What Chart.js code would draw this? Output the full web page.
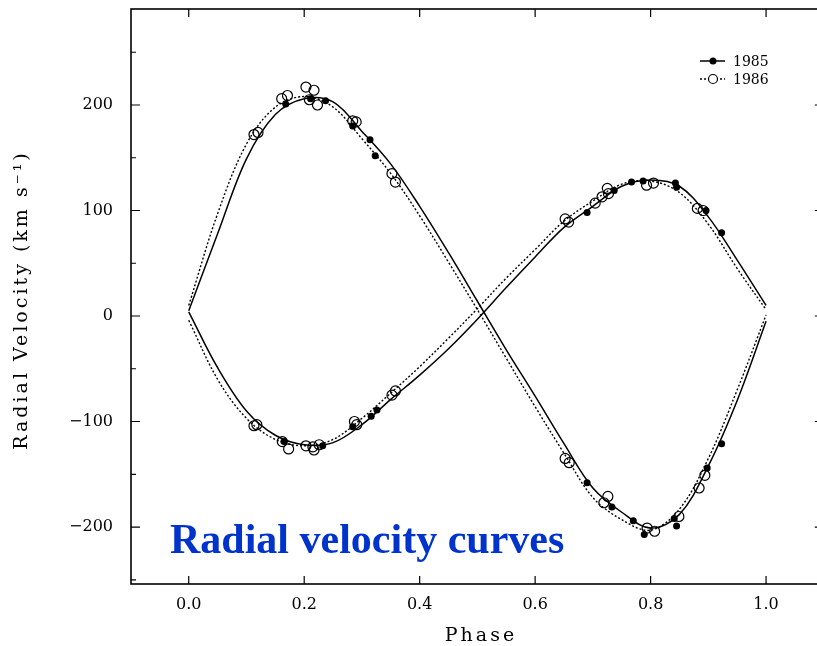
<!DOCTYPE html>
<html>
<head>
<meta charset="utf-8">
<script src="https://cdn.jsdelivr.net/npm/chart.js"></script>
<style>
  html, body { margin: 0; padding: 0; background: #fff; overflow: hidden; }
  #wrap { width: 830px; height: 646px; }
</style>
</head>
<body>
<div id="wrap"><canvas id="rvChart" width="830" height="646"></canvas></div>
<script>
const phaseGrid = [0.00, 0.05, 0.10, 0.15, 0.20, 0.25, 0.30, 0.35, 0.40, 0.45, 0.50,
                   0.55, 0.60, 0.65, 0.70, 0.75, 0.80, 0.85, 0.90, 0.95, 1.00];

// fitted curves, km/s (A = star peaking at phase 0.2, B = the other one)
const fit1985A = [5, 78, 149, 191, 206, 203, 175, 144, 104, 60, 14,
                  -32, -76, -121, -163, -186, -201, -188, -142, -80, -5];
const fit1985B = [4, -49, -90, -113, -122, -120, -103, -79, -56, -31, -3,
                  27, 56, 84, 104, 123, 129, 123, 94, 53, 10];
const fit1986A = [10, 97, 163, 198, 208, 198, 168, 135, 95, 51, 6,
                  -40, -86, -130, -172, -193, -203, -183, -135, -70, 1];
const fit1986B = [-4, -60, -97, -117, -123, -117, -97, -73, -48, -21, 7,
                  36, 63, 90, 109, 125, 128, 117, 87, 45, 6];

// observations 1985 (filled dots)
const obs1985Phase = [0.168, 0.211, 0.237, 0.284, 0.314, 0.323,
                      0.690, 0.733, 0.770, 0.789, 0.841, 0.845, 0.898, 0.923,
                      0.165, 0.232, 0.284, 0.316, 0.326,
                      0.690, 0.737, 0.767, 0.787, 0.843, 0.845, 0.896, 0.923];
const obs1985Vel = [201, 206, 204, 180, 167, 152,
                    -158, -181, -194, -207, -192, -199, -144, -121,
                    -119, -123, -105, -95, -89,
                    98, 119, 127, 128, 126, 122, 100, 79];

// observations 1986 (open circles)
const obs1986Phase = [0.113, 0.120, 0.161, 0.171, 0.203, 0.217, 0.209, 0.223, 0.284, 0.290, 0.352, 0.358,
                      0.652, 0.659, 0.719, 0.726, 0.794, 0.807, 0.849, 0.884, 0.894,
                      0.113, 0.118, 0.162, 0.173, 0.203, 0.215, 0.217, 0.226, 0.287, 0.291, 0.352, 0.358,
                      0.652, 0.658, 0.704, 0.716, 0.725, 0.727, 0.793, 0.805, 0.881, 0.891];
const obs1986Vel = [172, 174, 206, 209, 217, 214, 205, 200, 185, 184, 135, 127,
                    -135, -139, -177, -171, -201, -204, -190, -163, -151,
                    -104, -103, -119, -126, -123, -124, -127, -122, -100, -103, -75, -71,
                    92, 89, 107, 113, 121, 116, 124, 126, 102, 100];

const xTicks = [0, 0.2, 0.4, 0.6, 0.8, 1.0];
const yTicks = [-200, -100, 0, 100, 200];
const yMinorTicks = [-250, -150, -50, 50, 150, 250];
const legendYears = ['1985', '1986'];

const pts = (xs, ys) => xs.map((x, i) => ({ x: x, y: ys[i] }));

const curve = (vals, dashed) => ({
    data: pts(phaseGrid, vals),
    showLine: true,
    borderColor: '#000',
    borderWidth: dashed ? 1.4 : 1.5,
    borderDash: dashed ? [2, 2] : [],
    pointRadius: 0,
    tension: 0.35,
    order: 2
});

const framePlugin = {
    id: 'frame',
    afterDraw(chart) {
        const { ctx, chartArea: a, scales } = chart;
        ctx.save();
        ctx.strokeStyle = '#000';
        ctx.lineWidth = 1.6;
        ctx.setLineDash([]);
        // the right edge of the frame lies just outside the picture
        ctx.strokeRect(a.left, a.top, a.right - a.left, a.bottom - a.top);

        // inward ticks
        ctx.lineWidth = 1.2;
        ctx.beginPath();
        xTicks.forEach(v => {
            const px = scales.x.getPixelForValue(v);
            ctx.moveTo(px, a.bottom); ctx.lineTo(px, a.bottom - 8);
            ctx.moveTo(px, a.top); ctx.lineTo(px, a.top + 8);
        });
        yTicks.forEach(v => {
            const py = scales.y.getPixelForValue(v);
            ctx.moveTo(a.left, py); ctx.lineTo(a.left + 9, py);
            ctx.moveTo(a.right, py); ctx.lineTo(a.right - 9, py);
        });
        yMinorTicks.forEach(v => {
            const py = scales.y.getPixelForValue(v);
            ctx.moveTo(a.left, py); ctx.lineTo(a.left + 5, py);
            ctx.moveTo(a.right, py); ctx.lineTo(a.right - 5, py);
        });
        ctx.stroke();

        // axis titles (wide set, like the original typesetting)
        ctx.fillStyle = '#000';
        ctx.font = '19px "DejaVu Serif"';
        ctx.letterSpacing = '3px';
        ctx.textAlign = 'center';
        ctx.textBaseline = 'middle';
        ctx.fillText('Phase', 481, 636);
        ctx.save();
        ctx.translate(22, 300);
        ctx.rotate(-Math.PI / 2);
        ctx.fillText('Radial Velocity (km s\u207B\u00B9)', 0, 0);
        ctx.restore();
        ctx.letterSpacing = '0px';

        // legend
        ctx.textAlign = 'left';
        ctx.font = '14px "DejaVu Serif"';
        legendYears.forEach((year, i) => {
            const y = 61 + i * 18;
            ctx.lineWidth = i === 0 ? 1.5 : 1.4;
            ctx.setLineDash(i === 0 ? [] : [2, 2]);
            ctx.beginPath();
            ctx.moveTo(700, y); ctx.lineTo(725, y);
            ctx.stroke();
            ctx.setLineDash([]);
            ctx.beginPath();
            ctx.arc(713, y, i === 0 ? 3.5 : 4.5, 0, Math.PI * 2);
            if (i === 0) { ctx.fill(); } else { ctx.fillStyle = '#fff'; ctx.fill(); ctx.fillStyle = '#000'; ctx.lineWidth = 1.2; ctx.stroke(); }
            ctx.fillText(year, 733, y + 1);
        });

        // caption
        ctx.font = 'bold 42px "Liberation Serif"';
        ctx.fillStyle = '#0033cc';
        ctx.textBaseline = 'alphabetic';
        ctx.fillText('Radial velocity curves', 170, 553);
        ctx.restore();
    }
};

new Chart(document.getElementById('rvChart'), {
    type: 'scatter',
    data: {
        datasets: [
            curve(fit1985A, false),
            curve(fit1985B, false),
            curve(fit1986A, true),
            curve(fit1986B, true),
            {
                data: pts(obs1985Phase, obs1985Vel),
                pointRadius: 3.5,
                pointBackgroundColor: '#000',
                pointBorderColor: '#000',
                pointBorderWidth: 0,
                order: 1
            },
            {
                data: pts(obs1986Phase, obs1986Vel),
                pointRadius: 5,
                pointBackgroundColor: 'rgba(255,255,255,0)',
                pointBorderColor: '#000',
                pointBorderWidth: 1.2,
                order: 0
            }
        ]
    },
    options: {
        responsive: false,
        animation: false,
        layout: { padding: { top: 9, right: 2, left: 0, bottom: 0 } },
        plugins: {
            legend: { display: false },
            tooltip: { enabled: false }
        },
        scales: {
            x: {
                type: 'linear',
                min: -0.1,
                max: 1.1,
                grid: { display: false, drawTicks: false },
                border: { display: false },
                afterBuildTicks: s => { s.ticks = xTicks.map(v => ({ value: v })); },
                afterFit: s => { s.height = 62; s.paddingLeft = 0; s.paddingRight = 0; },
                ticks: {
                    padding: 11,
                    color: '#000',
                    font: { family: 'DejaVu Serif', size: 16 },
                    callback: v => v.toFixed(1)
                }
            },
            y: {
                type: 'linear',
                min: -254,
                max: 291,
                grid: { display: false, drawTicks: false },
                border: { display: false },
                afterBuildTicks: s => { s.ticks = yTicks.map(v => ({ value: v })); },
                afterFit: s => { s.width = 131; s.paddingTop = 0; s.paddingBottom = 0; },
                ticks: {
                    padding: 18,
                    color: '#000',
                    font: { family: 'DejaVu Serif', size: 16 },
                    callback: v => (v < 0 ? '\u2212' + Math.abs(v) : String(v))
                }
            }
        }
    },
    plugins: [framePlugin]
});
</script>
</body>
</html>
